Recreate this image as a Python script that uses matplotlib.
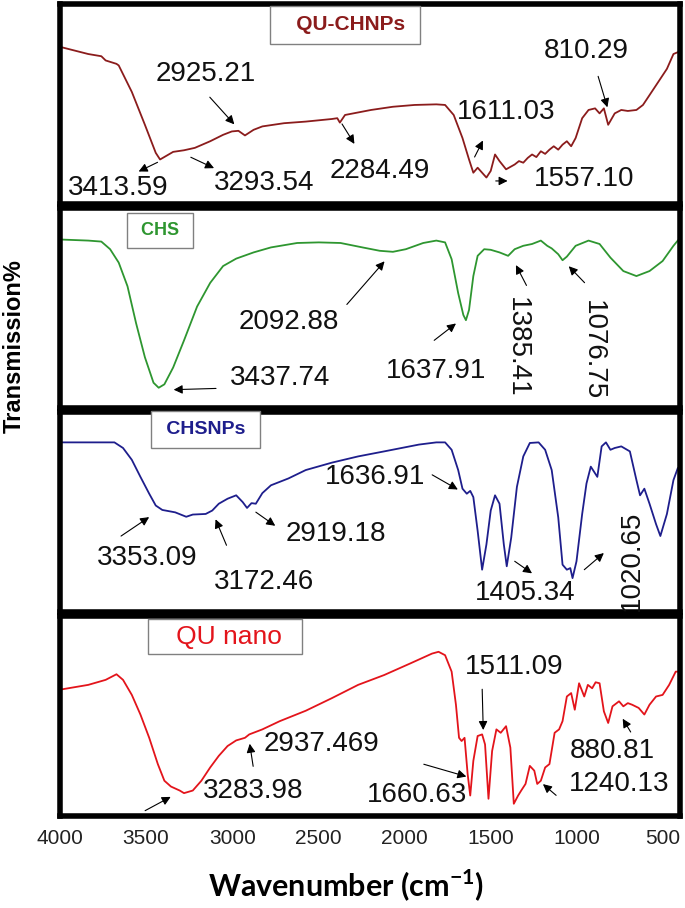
import matplotlib
matplotlib.use("Agg")
import matplotlib.pyplot as plt

plt.rcParams['font.family'] = ['Liberation Sans', 'DejaVu Sans']
plt.rcParams['mathtext.fontset'] = 'custom'
plt.rcParams['mathtext.rm'] = 'Lato'
plt.rcParams['mathtext.bf'] = 'Lato:bold'

# wavenumber (cm-1) and transmission (% of panel height)
qu_chnps_wn = [3987, 3836, 3760, 3735, 3672, 3659, 3583, 3507, 3444, 3419, 3343, 3280, 3217, 3128,
               3053, 3002, 2964, 2926, 2876, 2825, 2699, 2573, 2421, 2390, 2375, 2345, 2194, 2067,
               1941, 1815, 1764, 1714, 1663, 1625, 1600, 1575, 1549, 1524, 1499, 1474, 1448, 1410,
               1360, 1335, 1310, 1284, 1259, 1234, 1208, 1183, 1158, 1133, 1107, 1082, 1057, 1032,
               1006, 968, 931, 893, 867, 842, 817, 779, 741, 703, 653, 615, 577, 526, 476, 438, 413]
qu_chnps_t = [78.1, 74.8, 73.7, 71.6, 69.9, 69.1, 55.9, 39.5, 25.5, 22.2, 26.0, 26.8, 28.0, 31.3,
              34.5, 36.2, 36.5, 34.2, 37.0, 38.7, 40.3, 41.1, 42.4, 42.8, 40.6, 44.4, 46.9, 48.5,
              49.4, 49.7, 49.4, 44.4, 32.9, 22.2, 15.6, 18.1, 15.6, 13.2, 16.5, 24.7, 21.4, 17.3,
              19.7, 21.4, 20.6, 23.0, 24.7, 23.4, 26.3, 25.0, 27.1, 28.8, 27.1, 29.6, 31.3, 28.8,
              32.9, 42.8, 46.9, 47.7, 45.2, 47.7, 39.5, 45.2, 46.9, 46.4, 46.9, 49.4, 54.3, 60.9,
              67.4, 74.8, 75.7]

chs_wn = [3987, 3836, 3760, 3709, 3659, 3608, 3558, 3507, 3457, 3427, 3394, 3343, 3280, 3204,
          3128, 3053, 2977, 2876, 2775, 2623, 2497, 2371, 2244, 2143, 2067, 1992, 1891, 1815,
          1764, 1726, 1688, 1658, 1643, 1625, 1600, 1575, 1537, 1499, 1448, 1398, 1360, 1310,
          1259, 1208, 1171, 1145, 1107, 1082, 1057, 1006, 931, 867, 804, 729, 653, 577, 501, 438, 413]
chs_t = [84.0, 83.5, 83.0, 79.2, 72.5, 60.7, 42.2, 25.3, 12.6, 10.1, 11.8, 20.2, 33.7, 50.6,
         62.4, 70.8, 74.5, 77.6, 80.1, 82.3, 82.6, 82.3, 80.1, 78.4, 77.9, 79.2, 82.3, 83.5,
         82.6, 74.2, 57.3, 46.4, 43.8, 48.9, 65.8, 75.9, 79.2, 78.9, 77.6, 75.9, 79.2, 80.9,
         81.8, 83.5, 80.9, 79.6, 76.7, 73.7, 75.5, 80.9, 83.5, 81.8, 75.0, 68.3, 65.8, 68.3, 73.3, 80.9, 83.5]

chsnps_wn = [3987, 3684, 3634, 3583, 3533, 3482, 3444, 3406, 3331, 3267, 3229, 3154, 3116, 3078,
             3027, 2977, 2939, 2914, 2888, 2863, 2825, 2775, 2674, 2573, 2421, 2269, 2118, 2017,
             1916, 1815, 1764, 1726, 1688, 1663, 1638, 1618, 1600, 1575, 1549, 1524, 1499, 1474,
             1448, 1423, 1406, 1380, 1347, 1310, 1272, 1221, 1183, 1145, 1107, 1082, 1057, 1037,
             1024, 1001, 968, 943, 918, 880, 855, 830, 804, 779, 741, 691, 653, 632, 607, 577,
             539, 514, 476, 438, 413]
chsnps_t = [84.6, 84.6, 81.8, 75.9, 67.4, 59.0, 53.1, 50.9, 49.7, 47.5, 48.6, 48.9, 50.6, 54.0,
            56.5, 58.2, 54.8, 51.9, 54.3, 54.0, 59.3, 63.2, 66.6, 70.8, 74.5, 77.6, 80.1, 81.8,
            83.5, 84.6, 84.6, 80.9, 70.8, 61.5, 59.0, 60.4, 57.3, 40.5, 21.1, 33.7, 50.6, 58.2,
            54.0, 33.7, 22.8, 37.1, 62.4, 77.6, 84.3, 84.6, 80.9, 70.8, 47.2, 23.6, 21.1, 21.9,
            16.9, 25.3, 48.9, 64.1, 72.5, 67.4, 82.6, 84.6, 80.9, 81.8, 82.6, 80.1, 65.8, 58.2,
            61.5, 54.0, 43.8, 37.9, 48.9, 65.8, 71.7]

qu_nano_wn = [3987, 3836, 3735, 3672, 3634, 3583, 3533, 3482, 3432, 3394, 3356, 3305, 3280, 3229,
              3179, 3128, 3078, 3027, 2977, 2926, 2901, 2825, 2724, 2573, 2421, 2269, 2118, 1966,
              1840, 1802, 1764, 1726, 1701, 1683, 1668, 1651, 1633, 1618, 1600, 1575, 1549, 1532,
              1512, 1491, 1466, 1441, 1410, 1385, 1365, 1340, 1322, 1297, 1272, 1246, 1229, 1208,
              1183, 1158, 1128, 1102, 1082, 1057, 1032, 1011, 986, 956, 935, 910, 890, 867, 842,
              817, 792, 754, 729, 703, 678, 640, 607, 577, 539, 501, 463, 425, 413]
qu_nano_t = [63.2, 65.4, 67.9, 70.7, 67.9, 60.4, 50.6, 39.0, 25.9, 17.6, 14.7, 12.7, 11.4, 12.7,
             17.6, 24.2, 30.0, 34.9, 37.7, 39.0, 40.7, 43.2, 47.3, 52.5, 58.8, 65.4, 70.3, 76.1,
             81.0, 81.9, 80.2, 72.0, 55.5, 39.0, 37.4, 39.0, 20.9, 10.2, 27.5, 39.9, 40.7, 35.7,
             8.6, 32.4, 43.2, 41.5, 44.8, 34.1, 6.1, 10.2, 12.7, 16.0, 25.0, 22.6, 16.0, 17.6,
             24.2, 25.9, 41.5, 43.2, 47.3, 59.6, 61.3, 53.0, 66.2, 59.6, 65.4, 63.7, 66.7, 66.2, 52.2,
             46.4, 54.7, 57.2, 54.7, 56.3, 55.5, 53.9, 50.6, 55.5, 59.6, 60.4, 65.4, 72.0, 72.0]

# peak labels: (text, text position, arrow tail, arrow head, rotation)
qu_chnps_peaks = [
    ("2925.21", (3154, 65.0), (3141, 54.3), (2977, 38.7), 0),
    ("3413.59", (3664, 8.2), (3419, 21.4), (3558, 15.6), 0),
    ("3293.54", (2813, 10.7), (3255, 23.9), (3091, 17.3), 0),
    ("2284.49", (2143, 16.5), (2371, 41.1), (2282, 28.8), 0),
    ("1611.03", (1410, 46.1), (1600, 22.2), (1537, 32.9), 0),
    ("1557.10", (956, 12.3), (1486, 11.5), (1385, 11.5), 0),
    ("810.29", (943, 76.5), (880, 65.0), (817, 46.9), 0),
]
chs_peaks = [
    ("2092.88", (2674, 43.0), (2345, 50.6), (2105, 74.2), 0),
    ("3437.74", (2724, 15.2), (3078, 9.8), (3356, 9.1), 0),
    ("1637.91", (1815, 18.5), (1840, 32.9), (1688, 43.0), 0),
    ("1385.41", (1347, 30.3), (1284, 59.9), (1360, 72.5), -90),
    ("1076.75", (905, 28.7), (943, 61.5), (1057, 71.7), -90),
]
chsnps_peaks = [
    ("1636.91", (2168, 67.4), (1853, 69.1), (1676, 60.4), 0),
    ("3353.09", (3495, 27.0), (3659, 37.1), (3469, 48.1), 0),
    ("3172.46", (2813, 15.2), (3027, 32.0), (3103, 47.5), 0),
    ("2919.18", (2396, 38.8), (2876, 50.6), (2737, 42.2), 0),
    ("1405.34", (1297, 9.3), (1373, 26.1), (1246, 18.5), 0),
    ("1020.65", (678, 25.3), (968, 20.2), (830, 30.3), 90),
]
qu_nano_peaks = [
    ("1511.09", (1360, 74.4), (1549, 64.6), (1542, 41.5), 0),
    ("2937.469", (2484, 35.7), (2876, 23.4), (2901, 37.4), 0),
    ("3283.98", (2876, 12.7), (3520, 2.0), (3343, 10.2), 0),
    ("1660.63", (1928, 10.7), (1903, 26.2), (1625, 19.3), 0),
    ("880.81", (792, 32.4), (678, 40.7), (741, 49.7), 0),
    ("1240.13", (754, 16.0), (1107, 9.4), (1208, 16.8), 0),
]

# name, x, y, peaks, colour, label text (padded), label position, weight, size, box pad
panels = [
    ("QU-CHNPs", qu_chnps_wn, qu_chnps_t, qu_chnps_peaks, "#8b1c1c",
     "   QU-CHNPs ", (2345, 89.3), "bold", 15, 0.45),
    ("CHS", chs_wn, chs_t, chs_peaks, "#2e9630",
     " CHS ", (3419, 88.5), "bold", 13, 0.5),
    ("CHSNPs", chsnps_wn, chsnps_t, chsnps_peaks, "#1e1e8c",
     " CHSNPs ", (3155, 91.0), "bold", 14, 0.5),
    ("QU nano", qu_nano_wn, qu_nano_t, qu_nano_peaks, "#e3141b",
     "   QU nano  ", (3042, 89.5), "normal", 19, 0.2),
]

fig = plt.figure(figsize=(6.85, 9.08), dpi=100)

panel_tops = [3.5, 207.5, 411.5, 615.5]
panel_h = 200.5

for i, (name, wn, t, peaks, color, box_text, name_pos, weight, size, pad) in enumerate(panels):
    bottom = (908 - panel_tops[i] - panel_h) / 908
    ax = fig.add_axes([60 / 685, bottom, 620 / 685, panel_h / 908])
    ax.plot(wn, t, color=color, lw=1.3, label=name)
    ax.set_xlim(4000, 400)
    ax.set_ylim(0, 100)
    ax.set_yticks([])
    ax.set_xticks([4000, 3500, 3000, 2500, 2000, 1500, 1000, 500])
    ax.tick_params(axis='x', length=0, pad=9, labelsize=15, labelcolor='#222222')
    if i < 3:
        ax.tick_params(axis='x', labelbottom=False)
    for s in ax.spines.values():
        s.set_linewidth(4)
        s.set_color('black')

    ax.text(name_pos[0], name_pos[1], box_text, color=color, fontsize=size, fontweight=weight,
            ha='center', va='center',
            bbox=dict(boxstyle='square,pad=%.2f' % pad, fc='white', ec='#808080', lw=1.0))

    for label, txt, tail, head, rot in peaks:
        ax.annotate('', xy=head, xytext=tail,
                    arrowprops=dict(arrowstyle='-|>', color='black', lw=0.8, mutation_scale=13))
        ax.text(txt[0], txt[1], label, fontsize=20, rotation=rot, ha='center', va='center',
                color='#111111')

fig.text(14 / 685, 1 - 346 / 908, 'Transmission%', rotation=90, fontsize=17,
         fontweight='bold', ha='center', va='center')
fig.text(346 / 685, 1 - 885 / 908, r'Wavenumber (cm$^{\mathbf{-1}}$)', fontsize=22,
         fontweight='bold', family='Lato', ha='center', va='center')

plt.savefig('out.png', dpi=100)
plt.close()
